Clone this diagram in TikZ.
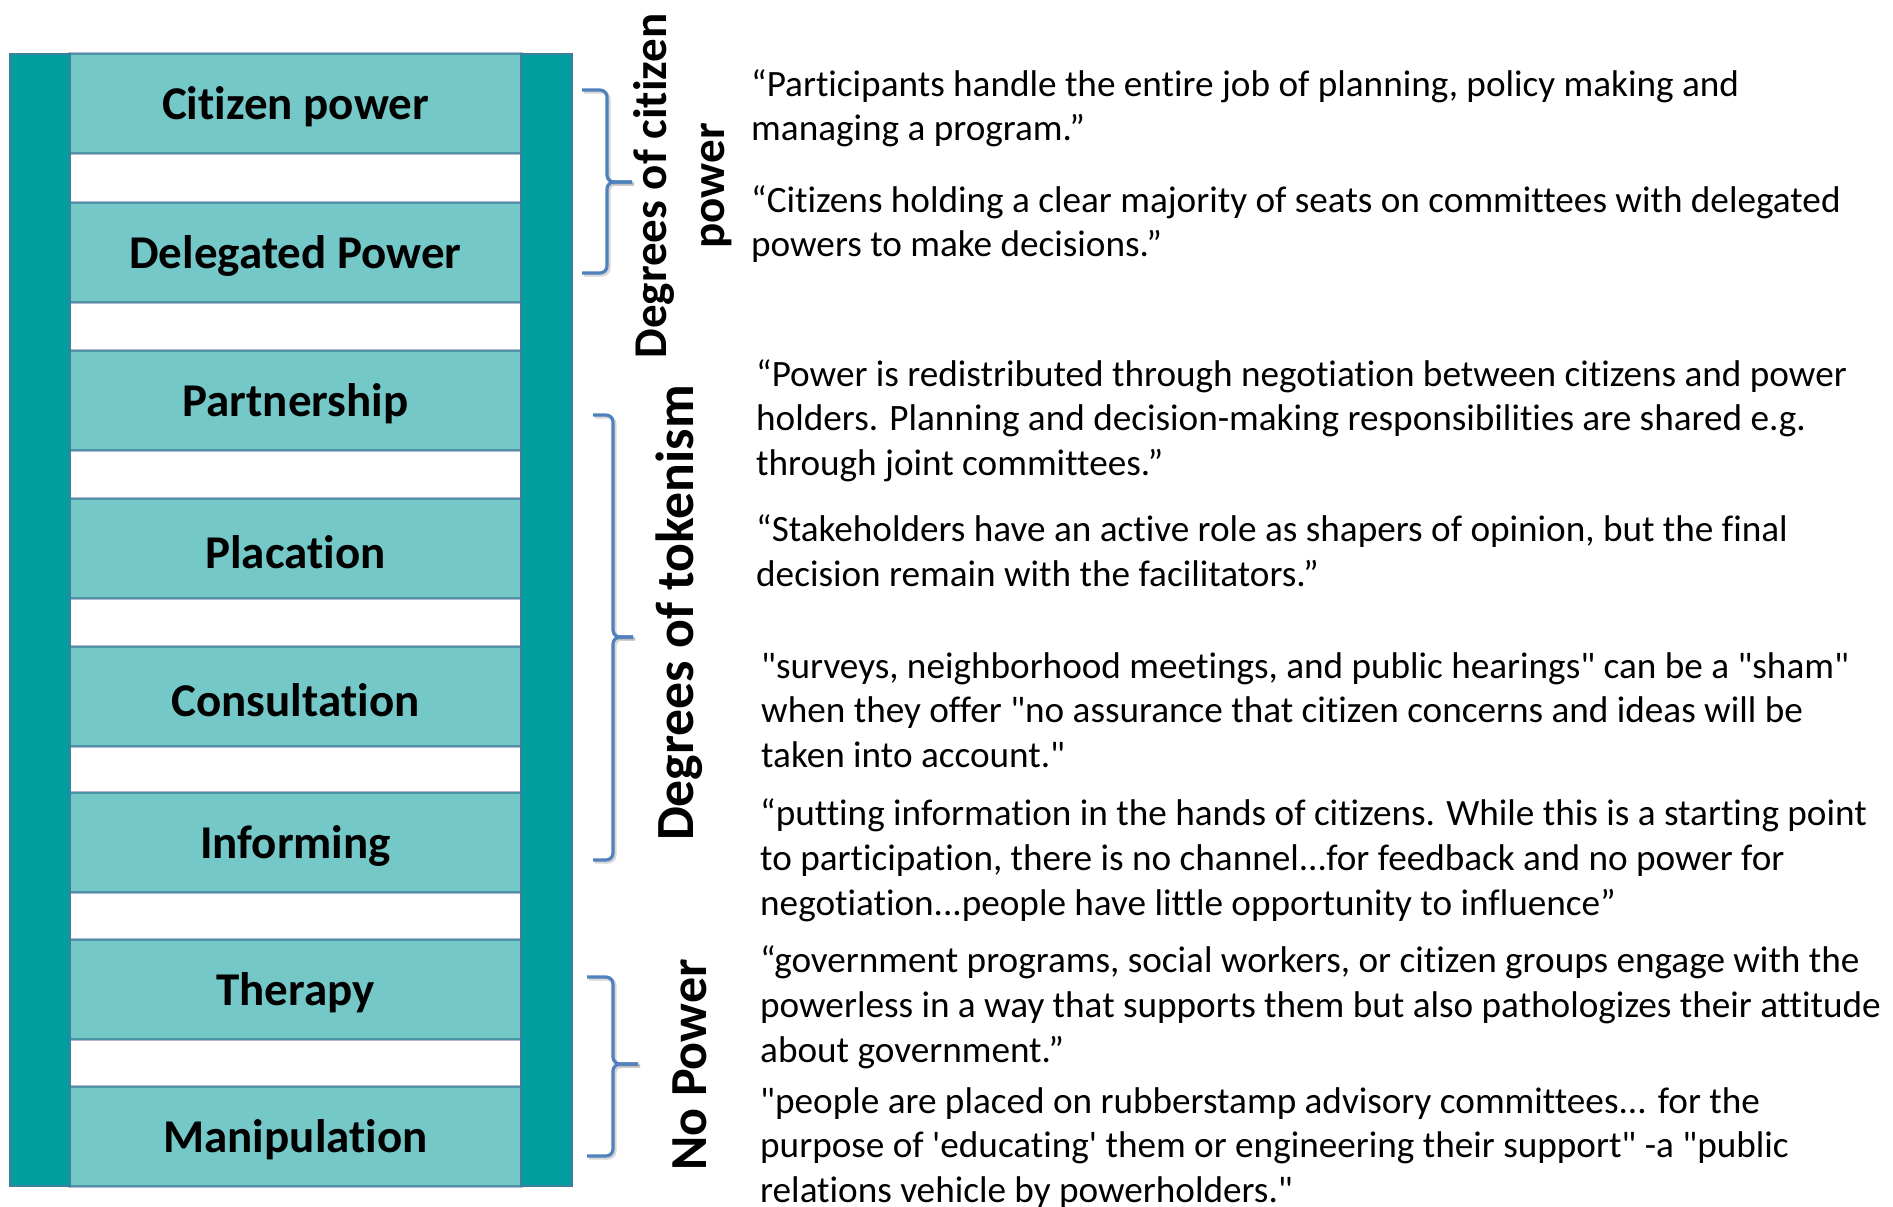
\documentclass[tikz,border=0pt]{standalone}
\usepackage{fontspec}
\setmainfont{Carlito}[Ligatures={NoCommon}]
\definecolor{railcol}{HTML}{009E9E}
\definecolor{rungcol}{HTML}{74C8C8}
\definecolor{edgecol}{HTML}{3F7F9C}
\definecolor{rungedge}{HTML}{4A94A6}
\definecolor{halo}{HTML}{B6B6D4}
\definecolor{bracecol}{HTML}{4F81BD}

% a square brace with a middle tick:
% #1 arm start x, #2 spine x, #3 top y, #4 tick y, #5 bottom y, #6 tick end x
\newcommand\ladderbrace[6]{%
  \foreach \s/\c/\o in {2/black!45/0.35, 0/bracecol/1}{%
    \draw[brace line, draw=\c, draw opacity=\o, shift={(\s,\s)}]
      (#1,#3) -- (#2,#3) -- (#2,#4) -- (#6,#4);
    \draw[brace line, draw=\c, draw opacity=\o, shift={(\s,\s)}]
      (#6,#4) -- (#2,#4) -- (#2,#5) -- (#1,#5);
  }%
}

\begin{document}
\begin{tikzpicture}[x=1pt, y=-1pt,
  rung/.style={rectangle, fill=rungcol, draw=rungedge, line width=1.5pt,
    minimum width=451pt, minimum height=99pt, inner sep=0pt},
  rungtext/.style={inner sep=0pt, yshift=-3.5pt,
    font=\fontsize{47}{56}\selectfont\bfseries},
  rail/.style={fill=railcol, draw=edgecol, line width=1.5pt},
  brace line/.style={line width=3.2pt, rounded corners=7pt},
  quote/.style={anchor=north west, inner sep=0pt, align=left,
    font=\fontsize{37.2}{44.7}\selectfont},
  sidelabel/.style={rotate=90, inner sep=0pt, align=center}
]
\useasboundingbox[fill=white] (0,0) rectangle (1893,1207);

% rungs of the ladder, top to bottom
\foreach \y in {103.5,252.5,400.5,548.5,696.5,842.5,989.5,1136.5}{
  \draw[halo, line width=4.5pt] (70,\y-49.5) rectangle (521,\y+49.5);
}
\node[rung] (r1) at (295.5,103.5) {};
\node[rung] (r2) at (295.5,252.5) {};
\node[rung] (r3) at (295.5,400.5) {};
\node[rung] (r4) at (295.5,548.5) {};
\node[rung] (r5) at (295.5,696.5) {};
\node[rung] (r6) at (295.5,842.5) {};
\node[rung] (r7) at (295.5,989.5) {};
\node[rung] (r8) at (295.5,1136.5) {};
\node[rungtext] (t1) at (r1) {Citizen power};
\node[rungtext] (t2) at (r2) {Delegated Power};
\node[rungtext] (t3) at (r3) {Partnership};
\node[rungtext] (t4) at (r4) {Placation};
\node[rungtext] (t5) at (r5) {Consultation};
\node[rungtext] (t6) at (r6) {Informing};
\node[rungtext] (t7) at (r7) {Therapy};
\node[rungtext] (t8) at (r8) {Manipulation};

% side rails
\draw[rail] (10,54) rectangle (70,1186);
\draw[rail] (521,54) rectangle (572,1186);

% braces grouping the rungs
\ladderbrace{582}{607}{90}{182}{273}{632}
\ladderbrace{593}{613}{415}{637}{860}{633}
\ladderbrace{587}{613}{977}{1064}{1156}{638}

% group labels
\node[sidelabel, font=\fontsize{47}{58}\selectfont\bfseries] (lab1) at (683,186)
  {Degrees of citizen\\power};
\node[sidelabel, font=\fontsize{53.7}{60}\selectfont\bfseries] (lab2) at (679,613)
  {Degrees of tokenism};
\node[sidelabel, font=\fontsize{52}{60}\selectfont\bfseries] (lab3) at (690,1065)
  {No Power};

% descriptions of each rung
\node[quote] (q1) at (751,96-30) {\rule{0pt}{30pt}“Participants handle the entire job of planning, policy making and\\
managing a program.”};
\node[quote] (q2) at (751,212-30) {\rule{0pt}{30pt}“Citizens holding a clear majority of seats on committees with delegated\\
powers to make decisions.”};
\node[quote] (q3) at (756,386-30) {\rule{0pt}{30pt}“Power is redistributed through negotiation between citizens and power\\
holders. Planning and decision-making responsibilities are shared e.g.\\
through joint committees.”};
\node[quote] (q4) at (756,541.7-30) {\rule{0pt}{30pt}“Stakeholders have an active role as shapers of opinion, but the final\\
decision remain with the facilitators.”};
\node[quote] (q5) at (761,678-30) {\rule{0pt}{30pt}\textquotedbl surveys, neighborhood meetings, and public hearings\textquotedbl{} can be a \textquotedbl sham\textquotedbl\\
when they offer \textquotedbl no assurance that citizen concerns and ideas will be\\
taken into account.\textquotedbl};
\node[quote] (q6) at (760,825.4-30) {\rule{0pt}{30pt}“putting information in the hands of citizens. While this is a starting point\\
to participation, there is no channel...for feedback and no power for\\
negotiation...people have little opportunity to influence”};
\node[quote] (q7) at (760,972.7-30) {\rule{0pt}{30pt}“government programs, social workers, or citizen groups engage with the\\
powerless in a way that supports them but also pathologizes their attitude\\
about government.”};
\node[quote] (q8) at (760,1113-30) {\rule{0pt}{30pt}\textquotedbl people are placed on rubberstamp advisory committees... for the\\
purpose of \textquotesingle educating\textquotesingle{} them or engineering their support\textquotedbl{} -a \textquotedbl public\\
relations vehicle by powerholders.\textquotedbl};
\end{tikzpicture}
\end{document}
